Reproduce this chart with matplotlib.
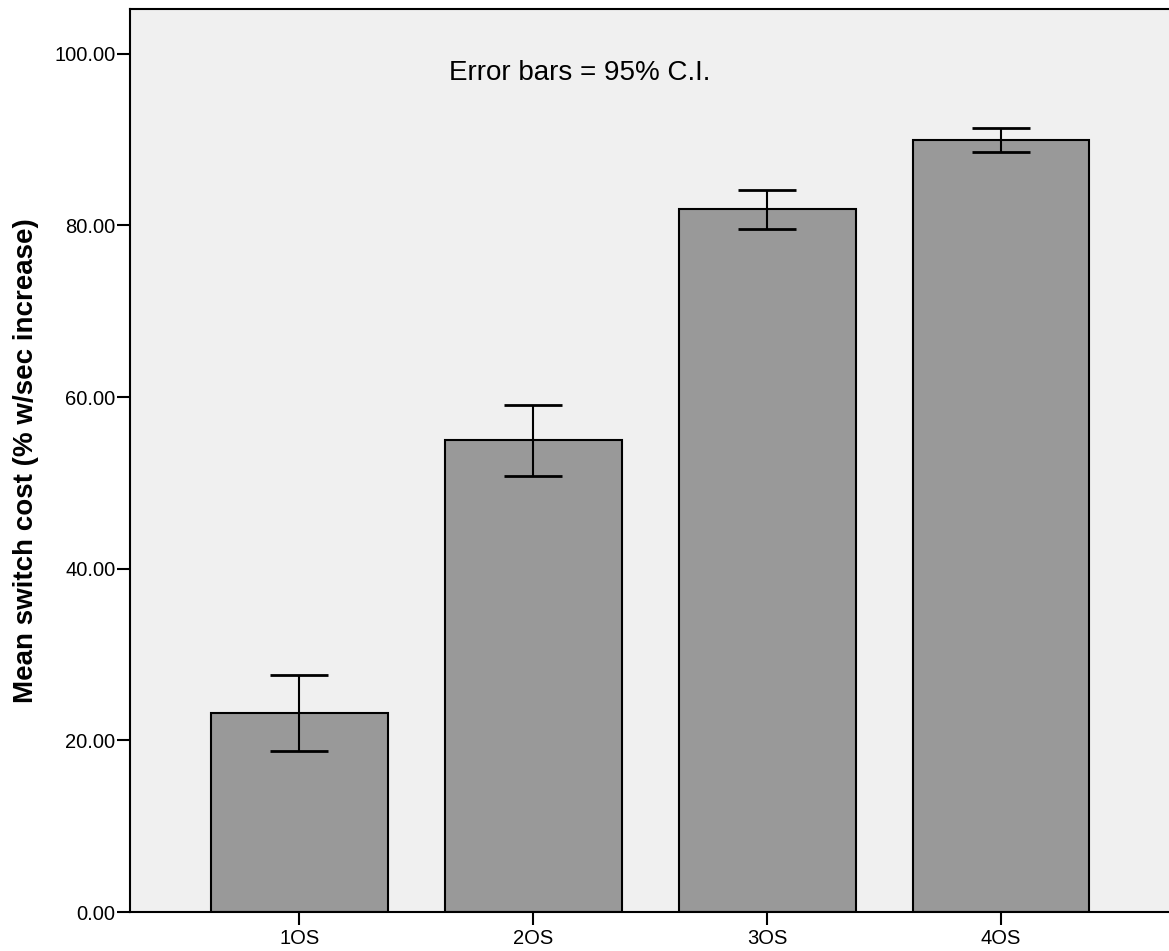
import numpy as np
import matplotlib.pyplot as plt

plt.rcParams['font.family'] = ['Liberation Sans', 'DejaVu Sans']

# --- data ---
groups = ['1OS', '2OS', '3OS', '4OS']
means = [23.2, 55.0, 81.9, 90.0]
ci_low = [18.7, 50.8, 79.6, 88.6]
ci_high = [27.6, 59.1, 84.1, 91.3]
y_ticks = [0, 20, 40, 60, 80, 100]

x = np.arange(len(groups))
means = np.array(means)
yerr = [means - np.array(ci_low), np.array(ci_high) - means]

fig = plt.figure(figsize=(11.69, 9.51), dpi=100)
# right edge of the plot runs off the image, like the original
ax = fig.add_axes([0.1112, 0.041, 0.8888, 0.9495])
ax.set_facecolor('#f0f0f0')

ax.bar(x, means, width=0.756, color='#999999', edgecolor='black', linewidth=1.5, zorder=2)
ax.errorbar(x, means, yerr=yerr, fmt='none', ecolor='black', elinewidth=1.5,
            capsize=21, capthick=2, zorder=3)

ax.set_xlim(-0.724, 3.718)
ax.set_ylim(0, 105.2)
ax.set_xticks(x)
ax.set_xticklabels(groups, fontsize=14.5)
ax.set_yticks(y_ticks)
ax.set_yticklabels([f'{v:.2f}' for v in y_ticks], fontsize=14.5)
ax.tick_params(axis='both', length=9.5, width=1.5, color='black')
ax.tick_params(axis='y', pad=1)
ax.tick_params(axis='x', pad=3)

for s in ax.spines.values():
    s.set_linewidth(1.5)
ax.spines['right'].set_visible(False)

ax.set_ylabel('Mean switch cost (% w/sec increase)', fontsize=20, fontweight='bold', labelpad=11)
ax.text(0.433, 0.929, 'Error bars = 95% C.I.', fontsize=20, ha='center', va='center',
        transform=ax.transAxes)

fig.savefig('out.png', dpi=100)
